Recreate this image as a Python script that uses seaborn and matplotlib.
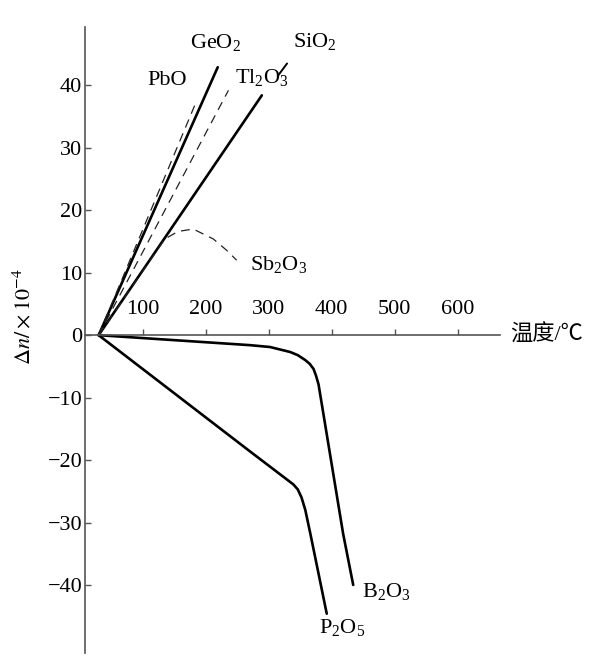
import numpy as np
import pandas as pd
import matplotlib
matplotlib.use('Agg')
import matplotlib.pyplot as plt
import seaborn as sns

# temperature (C) vs change of refractive index (x1e-4)
geo2_t = [30, 219]
geo2_n = [0, 42.9]
sio2_t = [30, 289]
sio2_n = [0, 38.4]
pbo_t = [30, 185]
pbo_n = [0, 37.4]
tl2o3_t = [30, 236]
tl2o3_n = [0, 39.2]
sb2o3_t = [30, 135, 156, 180, 212, 233, 249]
sb2o3_n = [0, 15.4, 16.6, 17.0, 15.4, 13.6, 12.0]
b2o3_t = [30, 270, 302, 334, 346, 358, 365, 371, 375, 379, 387, 418, 434]
b2o3_n = [0, -1.6, -1.9, -2.7, -3.2, -4.0, -4.6, -5.4, -6.5, -7.9, -12.8, -31.8, -40.0]
p2o5_t = [30, 270, 339, 346, 352, 358, 366, 392]
p2o5_n = [0, -18.6, -23.9, -24.7, -26.0, -28.0, -31.8, -44.6]

x_ticks = [100, 200, 300, 400, 500, 600]
y_ticks = [-40, -30, -20, -10, 0, 10, 20, 30, 40]

sns.set_style('ticks')
plt.rcParams['font.family'] = ['Liberation Serif', 'Noto Sans CJK SC', 'DejaVu Sans']
plt.rcParams['mathtext.fontset'] = 'stix'
plt.rcParams['font.size'] = 16
plt.rcParams['text.color'] = 'black'
plt.rcParams['xtick.labelcolor'] = 'black'
plt.rcParams['ytick.labelcolor'] = 'black'
plt.rcParams['axes.labelcolor'] = 'black'

fig = plt.figure(figsize=(6, 6.65), dpi=100)
ax = fig.add_axes([0.1417, 0.018, 0.6917, 0.941])

solid = [(geo2_t, geo2_n), (sio2_t, sio2_n), (b2o3_t, b2o3_n), (p2o5_t, p2o5_n)]
dashed = [(pbo_t, pbo_n), (tl2o3_t, tl2o3_n), (sb2o3_t, sb2o3_n)]

for t, n in solid:
    sns.lineplot(x=t, y=n, sort=False, estimator=None, color='black', linewidth=1.9,
                 solid_joinstyle='round', ax=ax)
for t, n in dashed:
    sns.lineplot(x=t, y=n, sort=False, estimator=None, color='#222222', linewidth=0.9, ax=ax)
    ax.lines[-1].set_dashes((7, 5))

# short leader for SiO2 label
ax.plot([315, 329], [41.6, 43.5], color='black', linewidth=1.4)

labels = [
    (175, 45.9, r'$\mathregular{GeO_2}$'),
    (339, 46.1, r'$\mathregular{SiO_2}$'),
    (107, 40.0, 'PbO'),
    (247, 40.3, r'$\mathregular{Tl_2O_3}$'),
    (270, 10.4, r'$\mathregular{Sb_2O_3}$'),
    (448, -41.9, r'$\mathregular{B_2O_3}$'),
    (380, -47.7, r'$\mathregular{P_2O_5}$'),
]
for x, y, s in labels:
    ax.text(x, y, s, ha='left', va='baseline', fontsize=16)

ax.set_xlim(8.4, 667)
ax.set_ylim(-50.9, 49.3)

# x axis drawn through zero, ticks and numbers above it
ax.spines['bottom'].set_visible(False)
ax.spines['right'].set_visible(False)
ax.spines['top'].set_position(('data', 0))
for side in ['top', 'left']:
    ax.spines[side].set_color('#555555')
    ax.spines[side].set_linewidth(1.2)
ax.xaxis.tick_top()
ax.set_xticks(x_ticks)
ax.set_yticks(y_ticks)
ax.tick_params(axis='x', direction='out', length=4.5, width=1.0, color='#555555', pad=7)
ax.tick_params(axis='y', direction='in', length=4.5, width=1.0, color='#555555', pad=2)

ax.text(683, 0, '温度/℃', ha='left', va='center', fontsize=16)
ax.set_ylabel(r'$\Delta n/\times 10^{-4}$', fontsize=16)
ax.yaxis.set_label_coords(-0.12, 0.538)
ax.set_xlabel('')

fig.savefig('out.png', dpi=100, facecolor='white')
